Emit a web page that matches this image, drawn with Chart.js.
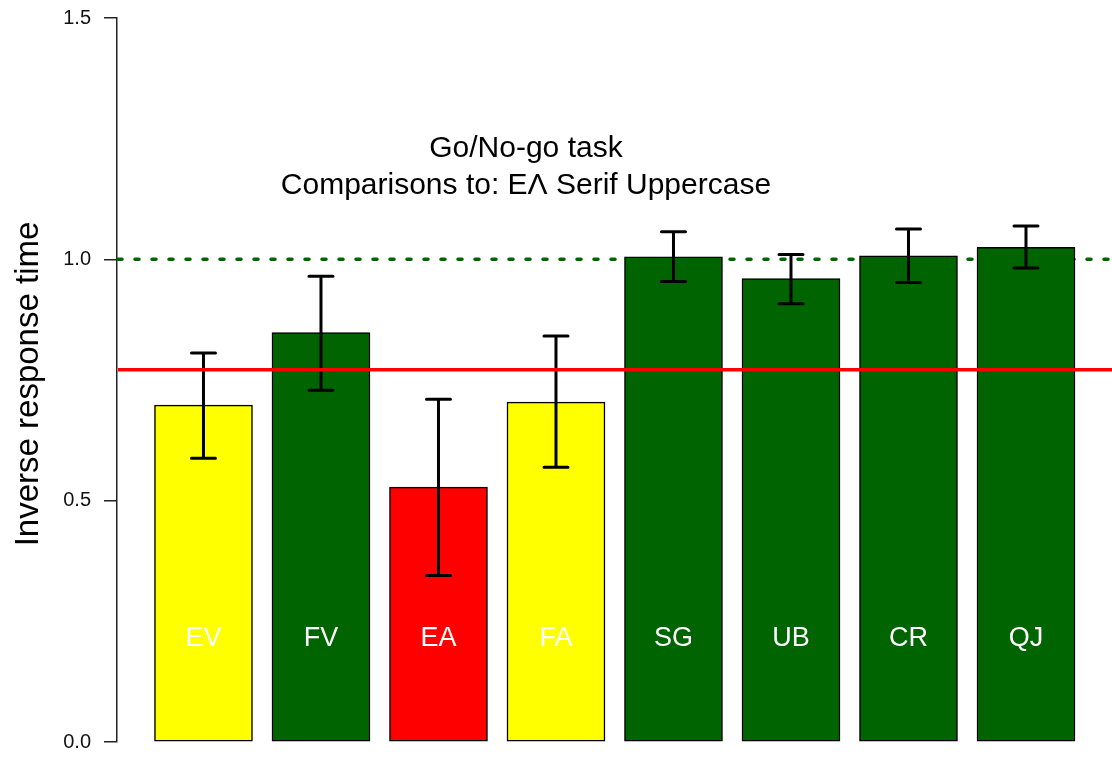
<!DOCTYPE html>
<html>
<head>
<meta charset="utf-8">
<script src="https://cdn.jsdelivr.net/npm/chart.js@4/dist/chart.umd.min.js"></script>
<style>
  html, body { margin: 0; padding: 0; background: #fff; }
  #wrap { width: 1112px; height: 757px; }
</style>
</head>
<body>
<div id="wrap"><canvas id="c" width="1112" height="757"></canvas></div>
<script>
// Stimulus conditions and their mean inverse response times
const categories = ['EV', 'FV', 'EA', 'FA', 'SG', 'UB', 'CR', 'QJ'];
const meanInvRT  = [0.698, 0.848, 0.528, 0.704, 1.005, 0.960, 1.007, 1.025];
const ciLower    = [0.588, 0.729, 0.345, 0.569, 0.954, 0.908, 0.952, 0.982];
const ciUpper    = [0.806, 0.965, 0.710, 0.841, 1.057, 1.010, 1.063, 1.069];
const baselineRT = 0.771;   // red reference level
const unityRT    = 1.0;     // dotted green reference level
const yTicks     = [0.0, 0.5, 1.0, 1.5];
const titleLines = ['Go/No-go task', 'Comparisons to: E\u039B Serif Uppercase'];
const yTitle     = 'Inverse response time';

const barColors = ['#ffff00', '#006400', '#ff0000', '#ffff00', '#006400', '#006400', '#006400', '#006400'];
const FONT = '"Liberation Sans", Arial, Helvetica, sans-serif';

const points = categories.map((c, i) => ({ x: i + 1, y: meanInvRT[i] }));

function hLine(chart, value, color, width, dash) {
  const { ctx, chartArea, scales } = chart;
  const y = scales.y.getPixelForValue(value);
  ctx.save();
  ctx.strokeStyle = color;
  ctx.lineWidth = width;
  if (dash) { ctx.setLineDash(dash); ctx.lineCap = 'round'; }
  ctx.beginPath();
  ctx.moveTo(chartArea.left + 1, y);
  ctx.lineTo(chartArea.right, y);
  ctx.stroke();
  ctx.restore();
}

const decorations = {
  id: 'decorations',
  beforeDatasetsDraw(chart) {
    hLine(chart, unityRT, '#006400', 3.5, [4, 13]);
  },
  afterDatasetsDraw(chart) {
    const { ctx, scales, chartArea } = chart;
    const xs = scales.x, ys = scales.y;

    // labels inside bars
    ctx.save();
    ctx.fillStyle = '#ffffff';
    ctx.font = '27px ' + FONT;
    ctx.textAlign = 'center';
    ctx.textBaseline = 'middle';
    categories.forEach((c, i) => {
      ctx.fillText(c, xs.getPixelForValue(i + 1), ys.getPixelForValue(0.214));
    });
    ctx.restore();

    // error bars
    ctx.save();
    ctx.strokeStyle = '#000';
    ctx.lineWidth = 3;
    ctx.lineCap = 'round';
    const cap = 12;
    categories.forEach((c, i) => {
      const x = xs.getPixelForValue(i + 1);
      const yl = ys.getPixelForValue(ciLower[i]);
      const yu = ys.getPixelForValue(ciUpper[i]);
      ctx.beginPath();
      ctx.moveTo(x, yl); ctx.lineTo(x, yu);
      ctx.moveTo(x - cap, yl); ctx.lineTo(x + cap, yl);
      ctx.moveTo(x - cap, yu); ctx.lineTo(x + cap, yu);
      ctx.stroke();
    });
    ctx.restore();

    hLine(chart, baselineRT, '#ff0000', 3.5, null);

    // title inside the plot
    ctx.save();
    ctx.fillStyle = '#000';
    ctx.font = '30px ' + FONT;
    ctx.textAlign = 'center';
    ctx.textBaseline = 'middle';
    const tx = chartArea.left + 0.411 * (chartArea.right - chartArea.left);
    ctx.fillText(titleLines[0], tx, ys.getPixelForValue(1.229));
    ctx.fillText(titleLines[1], tx, ys.getPixelForValue(1.152));
    ctx.restore();

    // y-axis title
    ctx.save();
    ctx.fillStyle = '#000';
    ctx.font = '33px ' + FONT;
    ctx.textAlign = 'center';
    ctx.textBaseline = 'alphabetic';
    ctx.translate(38, (chartArea.top + chartArea.bottom) / 2 + 4);
    ctx.rotate(-Math.PI / 2);
    ctx.fillText(yTitle, 0, 0);
    ctx.restore();
  }
};

new Chart(document.getElementById('c'), {
  type: 'bar',
  data: {
    datasets: [{
      data: points,
      backgroundColor: barColors,
      borderColor: '#000',
      borderWidth: 1.5,
      borderSkipped: false,
      barThickness: 98
    }]
  },
  options: {
    responsive: false,
    devicePixelRatio: 1,
    animation: false,
    layout: { padding: { left: 0, right: 0, top: 18, bottom: 15 } },
    plugins: { legend: { display: false }, tooltip: { enabled: false }, title: { display: false } },
    scales: {
      x: {
        type: 'linear',
        min: 0.264,
        max: 8.732,
        display: false,
        offset: false
      },
      y: {
        min: 0,
        max: 1.5,
        afterFit(scale) {
          scale.width = 117;
          scale.paddingTop = 0;
          scale.paddingBottom = 0;
        },
        afterBuildTicks(scale) { scale.ticks = yTicks.map(v => ({ value: v })); },
        ticks: {
          color: '#111',
          padding: 13,
          font: { family: FONT, size: 20 },
          callback: v => Number(v).toFixed(1)
        },
        grid: {
          display: true,
          drawOnChartArea: false,
          drawTicks: true,
          tickLength: 13,
          color: '#222',
          lineWidth: 1.5
        },
        border: { display: true, color: '#222', width: 1.5 }
      }
    }
  },
  plugins: [decorations]
});
</script>
</body>
</html>
